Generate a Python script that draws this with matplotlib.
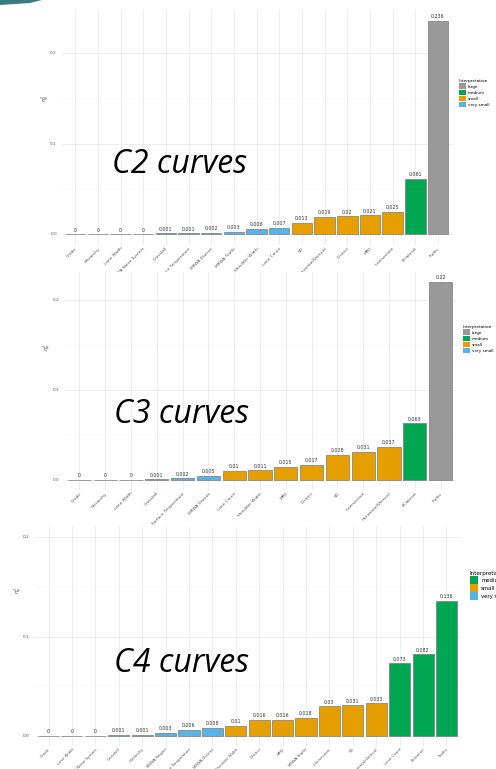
import matplotlib
matplotlib.use("Agg")
import matplotlib.pyplot as plt
from matplotlib.patches import Patch, Polygon
from matplotlib.ticker import MultipleLocator

# ---- data: partial eta squared per factor, sorted ascending ----
c2_factors = ["Grade", "Hierarchy", "Lane Width", "MRWA Noise System", "Crossfall",
              "Surface Temperature", "MRWA District", "MRWA Traffic", "Shoulder Width",
              "Lane Count", "SD", "Horizontal/Vertical", "District", "MPD",
              "Intersection", "Bi-lateral", "Traffic"]
c2_eta = [0, 0, 0, 0, 0.001, 0.001, 0.002, 0.003, 0.006, 0.007,
          0.013, 0.019, 0.02, 0.021, 0.025, 0.061, 0.236]

c3_factors = ["Grade", "Hierarchy", "Lane Width", "Crossfall", "Surface Temperature",
              "MRWA District", "Lane Count", "Shoulder Width", "MPD", "District",
              "SD", "Intersection", "Horizontal/Vertical", "Bi-lateral", "Traffic"]
c3_eta = [0, 0, 0, 0.001, 0.002, 0.005, 0.01, 0.011, 0.015, 0.017,
          0.028, 0.031, 0.037, 0.063, 0.22]

c4_factors = ["Grade", "Lane Width", "MRWA Noise System", "Crossfall", "Hierarchy",
              "MRWA Region", "Surface Temperature", "MRWA District", "Shoulder Width",
              "District", "MPD", "MRWA Traffic", "Intersection", "SD",
              "Horizontal/Vertical", "Lane Count", "Bi-lateral", "Traffic"]
c4_eta = [0, 0, 0, 0.001, 0.001, 0.003, 0.006, 0.008, 0.01, 0.016,
          0.016, 0.018, 0.03, 0.031, 0.033, 0.073, 0.082, 0.136]

panel_titles = ["C2 curves", "C3 curves", "C4 curves"]

levels = ["large", "medium", "small", "very small"]
level_colors = {"large": "#999999", "medium": "#00A651",
                "small": "#E69F00", "very small": "#56B4E9"}


def interpret(v):
    if v >= 0.14:
        return "large"
    if v >= 0.06:
        return "medium"
    if v >= 0.01:
        return "small"
    return "very small"


W, H = 496, 769
fig = plt.figure(figsize=(W / 100, H / 100), dpi=100)
fig.patch.set_facecolor("white")


def px_axes(left, top, right, bottom):
    return fig.add_axes([left / W, 1 - bottom / H, (right - left) / W, (bottom - top) / H])


def fx(x):
    return x / W


def fy(y):
    return 1 - y / H


# pixel boxes, y-limits, label spots for the three panels
panels = [
    dict(factors=c2_factors, eta=c2_eta, box=(61.6, 10, 451.6, 245),
         ylim=(-0.0118, 0.2478), ylab=(46, 98), leg=(456, 76), key=1.0,
         title_xy=(180, 173), tick_fs=3.1),
    dict(factors=c3_factors, eta=c3_eta, box=(64, 272, 456, 490),
         ylim=(-0.011, 0.231), ylab=(48, 347), leg=(460, 322), key=1.0,
         title_xy=(181, 422.5), tick_fs=3.1),
    dict(factors=c4_factors, eta=c4_eta, box=(34.5, 527, 460.5, 746),
         ylim=(-0.01, 0.21), ylab=(19, 590), leg=(466, 567), key=1.3,
         title_xy=(181, 672.5), tick_fs=2.8),
]

for p, title in zip(panels, panel_titles):
    ax = px_axes(*p["box"])
    n = len(p["factors"])
    cats = [interpret(v) for v in p["eta"]]
    cols = [level_colors[c] for c in cats]
    xs = list(range(n))
    ax.bar(xs, p["eta"], width=0.9, color=cols, edgecolor="#7a7a7a",
           linewidth=0.5, zorder=3)
    for x, v in zip(xs, p["eta"]):
        ax.annotate(f"{v:g}", (x, v), xytext=(0, 1.2), textcoords="offset points",
                    ha="center", va="bottom", fontsize=3.4, color="#333333")
    ax.set_xlim(-0.6, n - 0.4)
    ax.set_ylim(*p["ylim"])
    ax.set_xticks(xs)
    ax.set_xticklabels(p["factors"], rotation=45, ha="right",
                       rotation_mode="anchor", fontsize=p["tick_fs"], color="#555555")
    ax.yaxis.set_major_locator(MultipleLocator(0.1))
    ax.yaxis.set_minor_locator(MultipleLocator(0.05))
    ax.set_yticklabels([])
    for t in (0.0, 0.1, 0.2):
        if t <= p["ylim"][1]:
            ax.text(-0.012, t, f"{t:.1f}", transform=ax.get_yaxis_transform(),
                    ha="right", va="center", fontsize=3.1, color="#555555")
    ax.tick_params(axis="both", which="both", length=0, pad=1.0)
    ax.grid(True, which="major", color="#e6e6e6", linewidth=0.5, zorder=0)
    ax.grid(True, which="minor", axis="y", color="#f0f0f0", linewidth=0.35, zorder=0)
    ax.set_axisbelow(True)
    for s in ax.spines.values():
        s.set_visible(False)

    fig.text(fx(p["ylab"][0]), fy(p["ylab"][1]), r"$\eta^2_p$", rotation=90,
             ha="center", va="center", fontsize=3.6, color="#444444")

    present = [lv for lv in levels if lv in cats]
    handles = [Patch(facecolor=level_colors[lv], edgecolor="none") for lv in present]
    fig.legend(handles, present, title="Interpretation", loc="upper left",
               bbox_to_anchor=(fx(p["leg"][0]), fy(p["leg"][1])), frameon=False,
               fontsize=3.0 * p["key"], title_fontsize=3.1 * p["key"],
               handlelength=1.6, handleheight=1.7, labelspacing=0.12,
               handletextpad=0.5, borderpad=0.2, alignment="left")

    fig.text(fx(p["title_xy"][0]), fy(p["title_xy"][1]), title, ha="center",
             va="baseline", fontsize=23, style="italic", family="Open Sans",
             color="black")

# slide accent in the top-left corner
fig.patches.append(Polygon([(fx(0), fy(0)), (fx(42), fy(0)), (fx(30), fy(3)),
                            (fx(0), fy(5))], closed=True, facecolor="#3a7c84",
                           edgecolor="none", transform=fig.transFigure))

fig.savefig("out.png", dpi=100)
